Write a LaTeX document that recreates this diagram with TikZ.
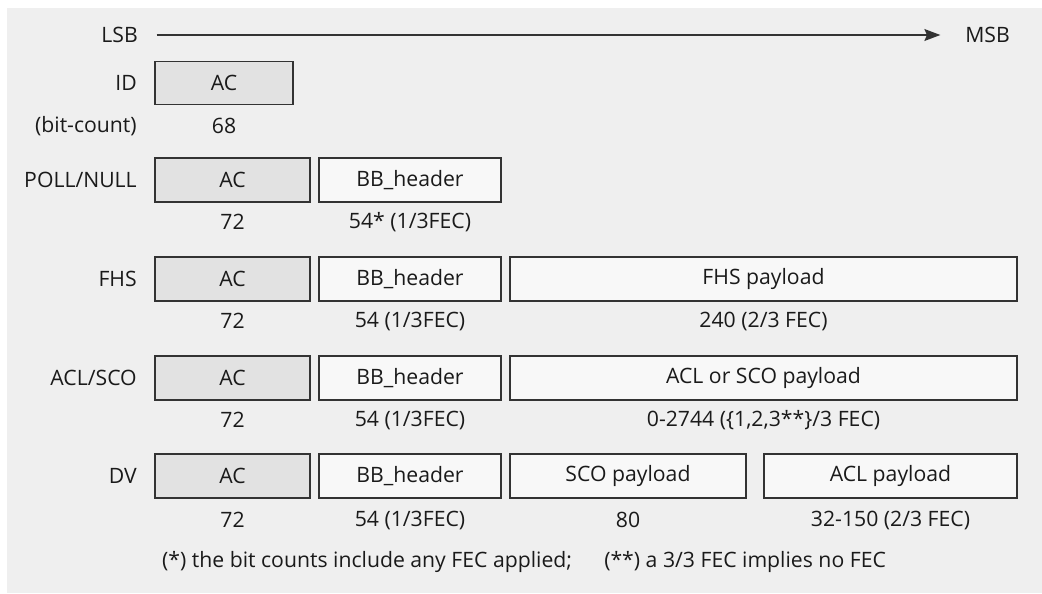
\documentclass[tikz,border=0pt]{standalone}
\usepackage{fontspec}
\setmainfont{Open Sans}
\usetikzlibrary{arrows.meta}
\definecolor{pagebg}{HTML}{EFEFEF}
\definecolor{acfill}{HTML}{E2E2E2}
\definecolor{fldfill}{HTML}{F8F8F8}
\definecolor{edge}{HTML}{333333}
\definecolor{ink}{HTML}{1A1A1A}
\begin{document}
\begin{tikzpicture}[x=0.75pt, y=-0.75pt,
  every node/.style={font=\fontsize{15.9}{18}\selectfont, text=ink},
  fld/.style={draw=edge, line width=1.1pt, fill=fldfill, minimum height=33pt, inner sep=0pt},
  acfld/.style={fld, fill=acfill},
  rowname/.style={anchor=east, inner sep=0pt},
  cnt/.style={inner sep=0pt}]
\useasboundingbox (0,0) rectangle (1042,593);
\fill[pagebg] (7,8) rectangle (1042,593);
% bit order
\node[rowname] (lsb) at (138,35) {LSB};
\node[anchor=west, inner sep=0pt] (msb) at (965,35) {MSB};
\draw[-{Stealth[length=12pt,width=9pt,inset=2pt]}, line width=0.9pt, edge, shorten <=14pt, shorten >=18.5pt] (lsb.east) -- (msb.west);
% ID
\node[rowname] (idname) at (137,83) {ID};
\node[acfld, minimum width=103.5pt, minimum height=32pt] (idac) at (224,83) {AC};
\node[rowname] (bitcount) at (137,126) {(bit-count)};
\node[cnt] (idacn) at (224,126) {68};
% POLL/NULL
\node[rowname] (pollname) at (137,180) {POLL/NULL};
\node[acfld, minimum width=116pt] (pollac) at (232.5,180) {AC};
\node[fld, minimum width=136.5pt] (pollbb) at (410,180) {BB\_header};
\node[cnt] (pollacn) at (232.5,222) {72};
\node[cnt] (pollbbn) at (410,222) {54* (1/3FEC)};
% FHS
\node[rowname] (fhsname) at (137,279) {FHS};
\node[acfld, minimum width=116pt] (fhsac) at (232.5,279) {AC};
\node[fld, minimum width=136.5pt] (fhsbb) at (410,279) {BB\_header};
\node[fld, minimum width=380pt] (fhspl) at (763.5,279) {FHS payload};
\node[cnt] (fhsacn) at (232.5,321) {72};
\node[cnt] (fhsbbn) at (410,321) {54 (1/3FEC)};
\node[cnt] (fhspln) at (763.5,321) {240 (2/3 FEC)};
% ACL/SCO
\node[rowname] (aclname) at (137,378) {ACL/SCO};
\node[acfld, minimum width=116pt] (aclac) at (232.5,378) {AC};
\node[fld, minimum width=136.5pt] (aclbb) at (410,378) {BB\_header};
\node[fld, minimum width=380pt] (aclpl) at (763.5,378) {ACL or SCO payload};
\node[cnt] (aclacn) at (232.5,420) {72};
\node[cnt] (aclbbn) at (410,420) {54 (1/3FEC)};
\node[cnt] (aclpln) at (763.5,420) {0-2744 (\{1,2,3**\}/3 FEC)};
% DV
\node[rowname] (dvname) at (137,476) {DV};
\node[acfld, minimum width=116pt] (dvac) at (232.5,476) {AC};
\node[fld, minimum width=136.5pt] (dvbb) at (410,476) {BB\_header};
\node[fld, minimum width=177pt] (dvsco) at (628,476) {SCO payload};
\node[fld, minimum width=190pt] (dvacl) at (890.5,476) {ACL payload};
\node[cnt] (dvacn) at (232.5,520) {72};
\node[cnt] (dvbbn) at (410,520) {54 (1/3FEC)};
\node[cnt] (dvscon) at (628,520) {80};
\node[cnt] (dvacln) at (890.5,520) {32-150 (2/3 FEC)};
% footnote
\node[cnt] (note) at (524,562) {(*) the bit counts include any FEC applied;\quad\ \ (**) a 3/3 FEC implies no FEC};
\end{tikzpicture}
\end{document}
